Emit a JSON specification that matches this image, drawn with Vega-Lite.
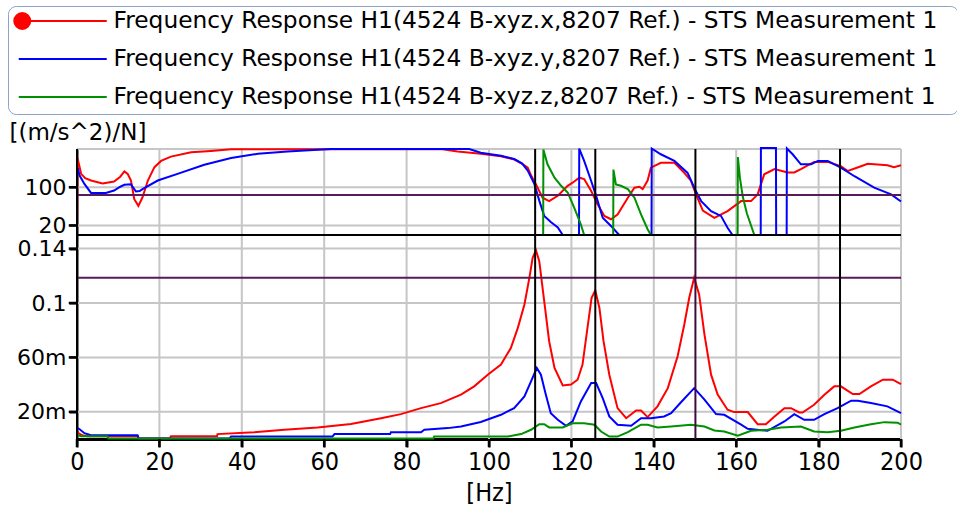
{
  "$schema": "https://vega.github.io/schema/vega-lite/v6.json",
  "width": 824,
  "height": 290,
  "padding": {"left": 7, "top": 5, "right": 1, "bottom": 2},
  "background": "white",
  "config": {
    "view": {"stroke": null},
    "font": "DejaVu Sans",
    "axis": {
      "domain": true, "ticks": true, "grid": false, "zindex": 1,
      "domainColor": "black", "domainWidth": 2, "tickColor": "black", "tickWidth": 2, "tickSize": 8, "tickOpacity": 1,
      "labelColor": "black", "titleColor": "black",
      "labelFont": "DejaVu Sans", "titleFont": "DejaVu Sans", "titleFontWeight": "normal",
      "labelOverlap": false, "labelFlush": false
    }
  },
  "datasets": {
    "phase": [
      {"s":"x","g":1,"f":0,"v":0},{"s":"x","g":1,"f":0.15,"v":160},{"s":"x","g":1,"f":1,"v":128},{"s":"x","g":1,"f":2,"v":119},{"s":"x","g":1,"f":3.4,"v":114},{"s":"x","g":1,"f":6.2,"v":108},{"s":"x","g":1,"f":9,"v":112},{"s":"x","g":1,"f":10.5,"v":122},{"s":"x","g":1,"f":11.5,"v":133},{"s":"x","g":1,"f":12.3,"v":128},{"s":"x","g":1,"f":13.1,"v":114},{"s":"x","g":1,"f":13.9,"v":75},{"s":"x","g":1,"f":14.9,"v":61},{"s":"x","g":1,"f":15.9,"v":79},{"s":"x","g":1,"f":17.2,"v":114},{"s":"x","g":1,"f":18.8,"v":142},{"s":"x","g":1,"f":20.4,"v":155},{"s":"x","g":1,"f":22.8,"v":164},{"s":"x","g":1,"f":27.7,"v":173},{"s":"x","g":1,"f":32.5,"v":176},{"s":"x","g":1,"f":37.4,"v":179.5},{"s":"x","g":1,"f":88.7,"v":179.5},{"s":"x","g":1,"f":92.4,"v":175},{"s":"x","g":1,"f":98,"v":170},{"s":"x","g":1,"f":102.9,"v":165},{"s":"x","g":1,"f":106.2,"v":158},{"s":"x","g":1,"f":108.6,"v":146},{"s":"x","g":1,"f":109.4,"v":141},{"s":"x","g":1,"f":110.2,"v":125},{"s":"x","g":1,"f":111.4,"v":106},{"s":"x","g":1,"f":113,"v":78},{"s":"x","g":1,"f":114.6,"v":71},{"s":"x","g":1,"f":116.7,"v":82},{"s":"x","g":1,"f":119.1,"v":103},{"s":"x","g":1,"f":120.7,"v":112},{"s":"x","g":1,"f":121.9,"v":120},{"s":"x","g":1,"f":123.1,"v":117},{"s":"x","g":1,"f":124.8,"v":92},{"s":"x","g":1,"f":126.4,"v":64},{"s":"x","g":1,"f":128,"v":40},{"s":"x","g":1,"f":129.6,"v":33},{"s":"x","g":1,"f":131.2,"v":43},{"s":"x","g":1,"f":133.7,"v":78},{"s":"x","g":1,"f":135.3,"v":99},{"s":"x","g":1,"f":136.5,"v":101},{"s":"x","g":1,"f":137.3,"v":96},{"s":"x","g":1,"f":138.5,"v":114},{"s":"x","g":1,"f":139.3,"v":141},{"s":"x","g":1,"f":141.7,"v":151},{"s":"x","g":1,"f":145,"v":151},{"s":"x","g":1,"f":147.4,"v":130},{"s":"x","g":1,"f":149,"v":114},{"s":"x","g":1,"f":150.2,"v":86},{"s":"x","g":1,"f":151.9,"v":51},{"s":"x","g":1,"f":154.7,"v":36},{"s":"x","g":1,"f":157.9,"v":50},{"s":"x","g":1,"f":161.2,"v":71},{"s":"x","g":1,"f":163.6,"v":71},{"s":"x","g":1,"f":165.2,"v":85},{"s":"x","g":1,"f":166.8,"v":127},{"s":"x","g":1,"f":169.3,"v":138},{"s":"x","g":1,"f":172.5,"v":131},{"s":"x","g":1,"f":174.1,"v":131},{"s":"x","g":1,"f":175.7,"v":138},{"s":"x","g":1,"f":178.9,"v":153},{"s":"x","g":1,"f":182.2,"v":153},{"s":"x","g":1,"f":185.4,"v":144},{"s":"x","g":1,"f":187.1,"v":134},{"s":"x","g":1,"f":190.3,"v":144},{"s":"x","g":1,"f":191.9,"v":149},{"s":"x","g":1,"f":196.7,"v":146},{"s":"x","g":1,"f":198.3,"v":142},{"s":"x","g":1,"f":200,"v":146},
      {"s":"y","g":2,"f":0.2,"v":140},{"s":"y","g":2,"f":0.6,"v":125},{"s":"y","g":2,"f":1.8,"v":107},{"s":"y","g":2,"f":3.4,"v":88},{"s":"y","g":2,"f":7,"v":88},{"s":"y","g":2,"f":9,"v":93},{"s":"y","g":2,"f":10.5,"v":101},{"s":"y","g":2,"f":11.5,"v":105},{"s":"y","g":2,"f":13.1,"v":106},{"s":"y","g":2,"f":14.3,"v":91},{"s":"y","g":2,"f":15.2,"v":92},{"s":"y","g":2,"f":15.9,"v":96},{"s":"y","g":2,"f":19.6,"v":114},{"s":"y","g":2,"f":24.4,"v":128},{"s":"y","g":2,"f":30.9,"v":147},{"s":"y","g":2,"f":37.4,"v":161},{"s":"y","g":2,"f":43.9,"v":170},{"s":"y","g":2,"f":51.1,"v":175},{"s":"y","g":2,"f":61.7,"v":180},{"s":"y","g":2,"f":95.2,"v":180},{"s":"y","g":2,"f":98,"v":172},{"s":"y","g":2,"f":102.9,"v":166},{"s":"y","g":2,"f":106.1,"v":159},{"s":"y","g":2,"f":108,"v":150},{"s":"y","g":2,"f":109.4,"v":135},{"s":"y","g":2,"f":111,"v":107},{"s":"y","g":2,"f":112.2,"v":72},{"s":"y","g":2,"f":113.4,"v":40},{"s":"y","g":2,"f":115,"v":27},{"s":"y","g":2,"f":116.7,"v":16},{"s":"y","g":2,"f":117.9,"v":0},
      {"s":"y","g":3,"f":121.85,"v":0},{"s":"y","g":3,"f":121.9,"v":181},{"s":"y","g":3,"f":123.1,"v":155},{"s":"y","g":3,"f":124.8,"v":113},{"s":"y","g":3,"f":126,"v":82},{"s":"y","g":3,"f":127.6,"v":36},{"s":"y","g":3,"f":129.6,"v":19},{"s":"y","g":3,"f":131.6,"v":0},
      {"s":"y","g":4,"f":139.45,"v":0},{"s":"y","g":4,"f":139.5,"v":181},{"s":"y","g":4,"f":141.7,"v":169},{"s":"y","g":4,"f":145,"v":155},{"s":"y","g":4,"f":148.2,"v":130},{"s":"y","g":4,"f":150.2,"v":92},{"s":"y","g":4,"f":151.5,"v":71},{"s":"y","g":4,"f":153.9,"v":50},{"s":"y","g":4,"f":156.3,"v":40},{"s":"y","g":4,"f":157.9,"v":15},{"s":"y","g":4,"f":159.1,"v":0},
      {"s":"y","g":5,"f":165.95,"v":0},{"s":"y","g":5,"f":166,"v":182},{"s":"y","g":5,"f":169.65,"v":182},{"s":"y","g":5,"f":169.7,"v":0},
      {"s":"y","g":6,"f":172.25,"v":0},{"s":"y","g":6,"f":172.3,"v":181},{"s":"y","g":6,"f":173.7,"v":169},{"s":"y","g":6,"f":175.7,"v":148},{"s":"y","g":6,"f":178.2,"v":148},{"s":"y","g":6,"f":179.8,"v":155},{"s":"y","g":6,"f":182.2,"v":155},{"s":"y","g":6,"f":185.4,"v":141},{"s":"y","g":6,"f":188.7,"v":123},{"s":"y","g":6,"f":193.5,"v":99},{"s":"y","g":6,"f":197.6,"v":85},{"s":"y","g":6,"f":200,"v":70},
      {"s":"z","g":7,"f":113.15,"v":0},{"s":"z","g":7,"f":113.2,"v":179},{"s":"z","g":7,"f":114.2,"v":148},{"s":"z","g":7,"f":115.9,"v":120},{"s":"z","g":7,"f":117.5,"v":103},{"s":"z","g":7,"f":119.1,"v":89},{"s":"z","g":7,"f":120.7,"v":57},{"s":"z","g":7,"f":122.3,"v":22},{"s":"z","g":7,"f":123.1,"v":0},
      {"s":"z","g":8,"f":130.15,"v":0},{"s":"z","g":8,"f":130.2,"v":137},{"s":"z","g":8,"f":130.8,"v":106},{"s":"z","g":8,"f":132,"v":103},{"s":"z","g":8,"f":133.7,"v":96},{"s":"z","g":8,"f":135.3,"v":78},{"s":"z","g":8,"f":136.9,"v":43},{"s":"z","g":8,"f":138.5,"v":12},{"s":"z","g":8,"f":139.3,"v":0},
      {"s":"z","g":9,"f":160.35,"v":0},{"s":"z","g":9,"f":160.4,"v":163},{"s":"z","g":9,"f":160.9,"v":120},{"s":"z","g":9,"f":161.6,"v":80},{"s":"z","g":9,"f":162.6,"v":45},{"s":"z","g":9,"f":164.4,"v":0}
    ],
    "mag": [
      {"s":"x","f":0,"m":0.006},{"s":"x","f":0.5,"m":0.004},{"s":"x","f":1.5,"m":0.0025},{"s":"x","f":2.6,"m":0.002},{"s":"x","f":14.7,"m":0.002},{"s":"x","f":15,"m":0.0003},{"s":"x","f":22.5,"m":0.0003},{"s":"x","f":22.8,"m":0.002},{"s":"x","f":34,"m":0.0022},{"s":"x","f":34.1,"m":0.0036},{"s":"x","f":43,"m":0.005},{"s":"x","f":50.3,"m":0.0068},{"s":"x","f":58.4,"m":0.0085},{"s":"x","f":66.5,"m":0.011},{"s":"x","f":73.8,"m":0.0153},{"s":"x","f":78.6,"m":0.0183},{"s":"x","f":83.5,"m":0.0227},{"s":"x","f":88.3,"m":0.0264},{"s":"x","f":93.2,"m":0.0326},{"s":"x","f":96.4,"m":0.0387},{"s":"x","f":99.7,"m":0.0473},{"s":"x","f":102.9,"m":0.0547},{"s":"x","f":105.3,"m":0.0669},{"s":"x","f":107,"m":0.0817},{"s":"x","f":108.6,"m":0.0989},{"s":"x","f":109.8,"m":0.1185},{"s":"x","f":110.6,"m":0.1333},{"s":"x","f":111.4,"m":0.1387},{"s":"x","f":112.2,"m":0.1308},{"s":"x","f":113.4,"m":0.1013},{"s":"x","f":114.6,"m":0.0719},{"s":"x","f":115.9,"m":0.0522},{"s":"x","f":117.9,"m":0.0394},{"s":"x","f":119.9,"m":0.04},{"s":"x","f":121.5,"m":0.0436},{"s":"x","f":122.7,"m":0.0547},{"s":"x","f":123.9,"m":0.0817},{"s":"x","f":124.9,"m":0.1038},{"s":"x","f":125.8,"m":0.1092},{"s":"x","f":126.8,"m":0.0964},{"s":"x","f":127.8,"m":0.0719},{"s":"x","f":129.2,"m":0.0473},{"s":"x","f":131.2,"m":0.0227},{"s":"x","f":133.3,"m":0.0153},{"s":"x","f":135.7,"m":0.021},{"s":"x","f":136.9,"m":0.021},{"s":"x","f":138.5,"m":0.0161},{"s":"x","f":140.9,"m":0.024},{"s":"x","f":143.4,"m":0.0374},{"s":"x","f":145.8,"m":0.061},{"s":"x","f":147.4,"m":0.0842},{"s":"x","f":148.6,"m":0.1038},{"s":"x","f":149.8,"m":0.1185},{"s":"x","f":151,"m":0.1063},{"s":"x","f":152.3,"m":0.0768},{"s":"x","f":153.9,"m":0.0473},{"s":"x","f":155.5,"m":0.0326},{"s":"x","f":157.9,"m":0.0215},{"s":"x","f":159.5,"m":0.0198},{"s":"x","f":162.8,"m":0.0198},{"s":"x","f":165.2,"m":0.0109},{"s":"x","f":167.2,"m":0.0109},{"s":"x","f":169.3,"m":0.0166},{"s":"x","f":171.7,"m":0.0227},{"s":"x","f":173.3,"m":0.0227},{"s":"x","f":175.3,"m":0.0195},{"s":"x","f":176.1,"m":0.0195},{"s":"x","f":178.9,"m":0.0252},{"s":"x","f":181.4,"m":0.0326},{"s":"x","f":183.8,"m":0.0387},{"s":"x","f":185.4,"m":0.0387},{"s":"x","f":188.3,"m":0.033},{"s":"x","f":189.9,"m":0.033},{"s":"x","f":192.7,"m":0.0387},{"s":"x","f":195.6,"m":0.0436},{"s":"x","f":198,"m":0.0436},{"s":"x","f":200,"m":0.0404},
      {"s":"y","f":0,"m":0.008},{"s":"y","f":0.5,"m":0.0075},{"s":"y","f":1.8,"m":0.0043},{"s":"y","f":3.4,"m":0.0028},{"s":"y","f":14.7,"m":0.0028},{"s":"y","f":15,"m":0.0003},{"s":"y","f":37,"m":0.0003},{"s":"y","f":37.4,"m":0.0018},{"s":"y","f":62,"m":0.0018},{"s":"y","f":62.5,"m":0.0036},{"s":"y","f":76,"m":0.0036},{"s":"y","f":76.2,"m":0.005},{"s":"y","f":83.5,"m":0.005},{"s":"y","f":84.3,"m":0.0068},{"s":"y","f":90,"m":0.008},{"s":"y","f":93.2,"m":0.0092},{"s":"y","f":98,"m":0.0125},{"s":"y","f":102.9,"m":0.0178},{"s":"y","f":106.1,"m":0.0227},{"s":"y","f":108.6,"m":0.0313},{"s":"y","f":110.2,"m":0.0424},{"s":"y","f":111.6,"m":0.0522},{"s":"y","f":112.6,"m":0.0473},{"s":"y","f":113.8,"m":0.0326},{"s":"y","f":115,"m":0.019},{"s":"y","f":116.7,"m":0.0141},{"s":"y","f":118.7,"m":0.0097},{"s":"y","f":120.3,"m":0.0129},{"s":"y","f":122.3,"m":0.0276},{"s":"y","f":124.8,"m":0.0411},{"s":"y","f":126,"m":0.0411},{"s":"y","f":127.6,"m":0.0301},{"s":"y","f":129.2,"m":0.0166},{"s":"y","f":131.2,"m":0.0105},{"s":"y","f":134.5,"m":0.0097},{"s":"y","f":136.9,"m":0.0153},{"s":"y","f":139.3,"m":0.0153},{"s":"y","f":142.5,"m":0.0166},{"s":"y","f":144.2,"m":0.019},{"s":"y","f":146.6,"m":0.027},{"s":"y","f":149.8,"m":0.0374},{"s":"y","f":152.3,"m":0.0289},{"s":"y","f":155.1,"m":0.0183},{"s":"y","f":157.1,"m":0.0178},{"s":"y","f":161.2,"m":0.0105},{"s":"y","f":162.8,"m":0.0075},{"s":"y","f":167.6,"m":0.006},{"s":"y","f":171.7,"m":0.0129},{"s":"y","f":174.1,"m":0.0183},{"s":"y","f":176.5,"m":0.0141},{"s":"y","f":178.9,"m":0.0141},{"s":"y","f":181.4,"m":0.0183},{"s":"y","f":184.6,"m":0.0227},{"s":"y","f":187.9,"m":0.0282},{"s":"y","f":189.5,"m":0.0282},{"s":"y","f":192.7,"m":0.0264},{"s":"y","f":196.7,"m":0.024},{"s":"y","f":200,"m":0.019},
      {"s":"z","f":0,"m":0.003},{"s":"z","f":1,"m":0.002},{"s":"z","f":7.4,"m":0.002},{"s":"z","f":7.6,"m":0.0003},{"s":"z","f":86.5,"m":0.0003},{"s":"z","f":86.7,"m":0.0018},{"s":"z","f":104.5,"m":0.0018},{"s":"z","f":107.8,"m":0.0036},{"s":"z","f":110.2,"m":0.0068},{"s":"z","f":112.2,"m":0.0109},{"s":"z","f":113.4,"m":0.0109},{"s":"z","f":114.6,"m":0.0085},{"s":"z","f":117.9,"m":0.0085},{"s":"z","f":120.3,"m":0.0116},{"s":"z","f":123.1,"m":0.0116},{"s":"z","f":125.6,"m":0.0105},{"s":"z","f":127.2,"m":0.0055},{"s":"z","f":129.2,"m":0.0018},{"s":"z","f":131.2,"m":0.0018},{"s":"z","f":133.7,"m":0.005},{"s":"z","f":136.9,"m":0.0105},{"s":"z","f":138.5,"m":0.0105},{"s":"z","f":140.9,"m":0.0085},{"s":"z","f":144.2,"m":0.0092},{"s":"z","f":149,"m":0.0105},{"s":"z","f":152.3,"m":0.0092},{"s":"z","f":154.7,"m":0.0063},{"s":"z","f":157.1,"m":0.0055},{"s":"z","f":160.4,"m":0.0024},{"s":"z","f":163.6,"m":0.006},{"s":"z","f":167.6,"m":0.0068},{"s":"z","f":170.9,"m":0.0085},{"s":"z","f":175.7,"m":0.0092},{"s":"z","f":178.9,"m":0.0055},{"s":"z","f":182.2,"m":0.005},{"s":"z","f":185.4,"m":0.006},{"s":"z","f":188.7,"m":0.0085},{"s":"z","f":192.7,"m":0.0109},{"s":"z","f":196,"m":0.0124},{"s":"z","f":199.2,"m":0.012},{"s":"z","f":200,"m":0.0105}
    ],
    "xgrid": [{"f":20},{"f":40},{"f":60},{"f":80},{"f":100},{"f":120},{"f":140},{"f":160},{"f":180},{"f":200}],
    "xticks": [{"f":0},{"f":20},{"f":40},{"f":60},{"f":80},{"f":100},{"f":120},{"f":140},{"f":160},{"f":180},{"f":200}],
    "pgrid": [{"v":20},{"v":100},{"v":180}],
    "pticks": [{"v":20},{"v":100}],
    "mgrid": [{"m":0.02},{"m":0.06},{"m":0.1},{"m":0.14}],
    "yline": [{"f":0}],
    "cursors": [{"f":111.2},{"f":125.8},{"f":185.2}],
    "cursor150": [{"f":150.1}]
  },
  "layer": [
    {
      "data": {"name": "xgrid"},
      "mark": {"type": "rule", "color": "#c6c6c6", "strokeWidth": 2},
      "encoding": {
        "x": {"field": "f", "type": "quantitative", "title": "[Hz]",
              "scale": {"domain": [0, 200], "nice": false, "zero": false},
              "axis": {"values": [0,20,40,60,80,100,120,140,160,180,200], "domainWidth": 3, "ticks": true, "tickSize": 8,
                       "labelFont": "DejaVu Sans Condensed, DejaVu Sans", "labelFontSize": 25, "labelPadding": 2,
                       "titleFont": "DejaVu Sans Condensed, DejaVu Sans", "titleFontSize": 25, "titlePadding": 6}}
      }
    },
    {
      "data": {"name": "pgrid"},
      "mark": {"type": "rule", "color": "#c6c6c6", "strokeWidth": 2},
      "encoding": {"y": {"field": "v", "type": "quantitative", "axis": null,
                         "scale": {"domain": [0, 180], "range": [86, 0], "nice": false, "zero": false}}}
    },
    {
      "data": {"name": "mgrid"},
      "mark": {"type": "rule", "color": "#c6c6c6", "strokeWidth": 2},
      "encoding": {"y": {"field": "m", "type": "quantitative", "axis": null,
                         "scale": {"domain": [0, 0.15], "range": [290, 86], "nice": false, "zero": false}}}
    },
    {
      "data": {"name": "phase"},
      "mark": {"type": "line", "strokeWidth": 2},
      "encoding": {
        "x": {"field": "f", "type": "quantitative", "title": "[Hz]"},
        "y": {"field": "v", "type": "quantitative",
              "scale": {"domain": [0, 180], "range": [86, 0], "nice": false, "zero": false},
              "axis": {"orient": "left", "values": [20, 100], "domain": true, "ticks": true, "tickSize": 8,
                       "labelFontSize": 22, "labelPadding": 3,
                       "title": "[(m/s^2)/N]", "titleFontSize": 23, "titleAngle": 0, "titleAlign": "left",
                       "titleBaseline": "alphabetic", "titleX": -68, "titleY": -10}},
        "color": {"field": "s", "type": "nominal",
                  "scale": {"domain": ["x", "y", "z"], "range": ["#ff0000", "#0000ff", "#009000"]},
                  "legend": {
                    "orient": "none", "legendX": -69, "legendY": -143, "title": null,
                    "labelExpr": "'Frequency Response H1(4524 B-xyz.' + datum.label + ',8207 Ref.) - STS Measurement 1 (B'",
                    "labelFont": "DejaVu Sans", "labelFontSize": 23.3, "labelColor": "black",
                    "labelLimit": 842, "labelOffset": 5.5,
                    "symbolType": "stroke", "symbolSize": 8556, "symbolStrokeWidth": 2,
                    "clipHeight": 20, "rowPadding": 14, "padding": 5,
                    "strokeColor": "#8aa3c6", "cornerRadius": 8, "fillColor": "white",
                    "encode": {
                      "symbols": {"update": {
                        "shape": {"signal": "datum.value === 'x' ? 'M-0.827,0L1,0M-1,0A0.173,0.173,0,1,0,-0.654,0A0.173,0.173,0,1,0,-1,0Z' : 'M-0.903,0L1,0'"},
                        "fill": {"signal": "datum.value === 'x' ? '#ff0000' : 'transparent'"}
                      }},
                      "labels": {"update": {"ellipsis": {"value": " "}}}
                    }
                  }},
        "detail": {"field": "g", "type": "nominal"}
      }
    },
    {
      "data": {"values": [{"v": 0}]},
      "mark": {"type": "rule", "color": "black", "strokeWidth": 2},
      "encoding": {"y": {"field": "v", "type": "quantitative", "axis": null,
                         "scale": {"domain": [0, 180], "range": [86, 0], "nice": false, "zero": false}}}
    },
    {
      "data": {"values": [{"v": 83.7}]},
      "mark": {"type": "rule", "color": "#581a58", "strokeWidth": 2},
      "encoding": {"y": {"field": "v", "type": "quantitative", "axis": null,
                         "scale": {"domain": [0, 180], "range": [86, 0], "nice": false, "zero": false}}}
    },
    {
      "data": {"name": "mag"},
      "mark": {"type": "line", "strokeWidth": 2},
      "encoding": {
        "x": {"field": "f", "type": "quantitative", "title": "[Hz]"},
        "y": {"field": "m", "type": "quantitative",
              "scale": {"domain": [0, 0.15], "range": [290, 86], "nice": false, "zero": false},
              "axis": {"orient": "left", "values": [0.02, 0.06, 0.1, 0.14], "domain": true, "ticks": true, "tickSize": 8,
                       "labelExpr": "datum.value < 0.03 ? '20m' : datum.value < 0.08 ? '60m' : datum.value < 0.12 ? '0.1' : '0.14'",
                       "labelFontSize": 22, "labelPadding": 3, "title": null}},
        "color": {"field": "s", "type": "nominal", "legend": null}
      }
    },
    {
      "data": {"values": [{"m": 0.1185}]},
      "mark": {"type": "rule", "color": "#581a58", "strokeWidth": 2},
      "encoding": {"y": {"field": "m", "type": "quantitative", "axis": null,
                         "scale": {"domain": [0, 0.15], "range": [290, 86], "nice": false, "zero": false}}}
    },
    {
      "data": {"name": "cursors"},
      "mark": {"type": "rule", "strokeWidth": 2, "color": "black"},
      "encoding": {
        "x": {"field": "f", "type": "quantitative", "title": "[Hz]"}
      }
    },
    {
      "data": {"name": "cursor150"},
      "mark": {"type": "rule", "strokeWidth": 2, "color": "#3c0c3c"},
      "encoding": {
        "x": {"field": "f", "type": "quantitative", "title": "[Hz]"},
        "y": {"datum": 0, "type": "quantitative", "axis": null,
              "scale": {"domain": [0, 0.15], "range": [290, 86], "nice": false, "zero": false}},
        "y2": {"datum": 0.15}
      }
    },
    {
      "data": {"name": "cursor150"},
      "mark": {"type": "rule", "strokeWidth": 2, "color": "black"},
      "encoding": {
        "x": {"field": "f", "type": "quantitative", "title": "[Hz]"},
        "y": {"datum": 0, "type": "quantitative", "axis": null,
              "scale": {"domain": [0, 180], "range": [86, 0], "nice": false, "zero": false}},
        "y2": {"datum": 180}
      }
    },
    {
      "data": {"name": "yline"},
      "mark": {"type": "rule", "strokeWidth": 2, "color": "black"},
      "encoding": {"x": {"field": "f", "type": "quantitative", "title": "[Hz]"}}
    },
    {
      "data": {"name": "pticks"},
      "mark": {"type": "rule", "strokeWidth": 2.5, "color": "black", "clip": false},
      "encoding": {
        "x": {"datum": -2, "type": "quantitative"},
        "x2": {"datum": 0},
        "y": {"field": "v", "type": "quantitative", "axis": null,
              "scale": {"domain": [0, 180], "range": [86, 0], "nice": false, "zero": false}}
      }
    },
    {
      "data": {"name": "mgrid"},
      "mark": {"type": "rule", "strokeWidth": 2.5, "color": "black", "clip": false},
      "encoding": {
        "x": {"datum": -2, "type": "quantitative"},
        "x2": {"datum": 0},
        "y": {"field": "m", "type": "quantitative", "axis": null,
              "scale": {"domain": [0, 0.15], "range": [290, 86], "nice": false, "zero": false}}
      }
    },
    {
      "data": {"name": "xticks"},
      "mark": {"type": "rule", "strokeWidth": 2.5, "color": "black", "clip": false},
      "encoding": {
        "x": {"field": "f", "type": "quantitative", "title": "[Hz]"},
        "y": {"datum": 0, "type": "quantitative", "axis": null,
              "scale": {"domain": [0, 0.15], "range": [290, 86], "nice": false, "zero": false}},
        "y2": {"datum": -0.006}
      }
    }
  ],
  "resolve": {"scale": {"y": "independent"}}
}
